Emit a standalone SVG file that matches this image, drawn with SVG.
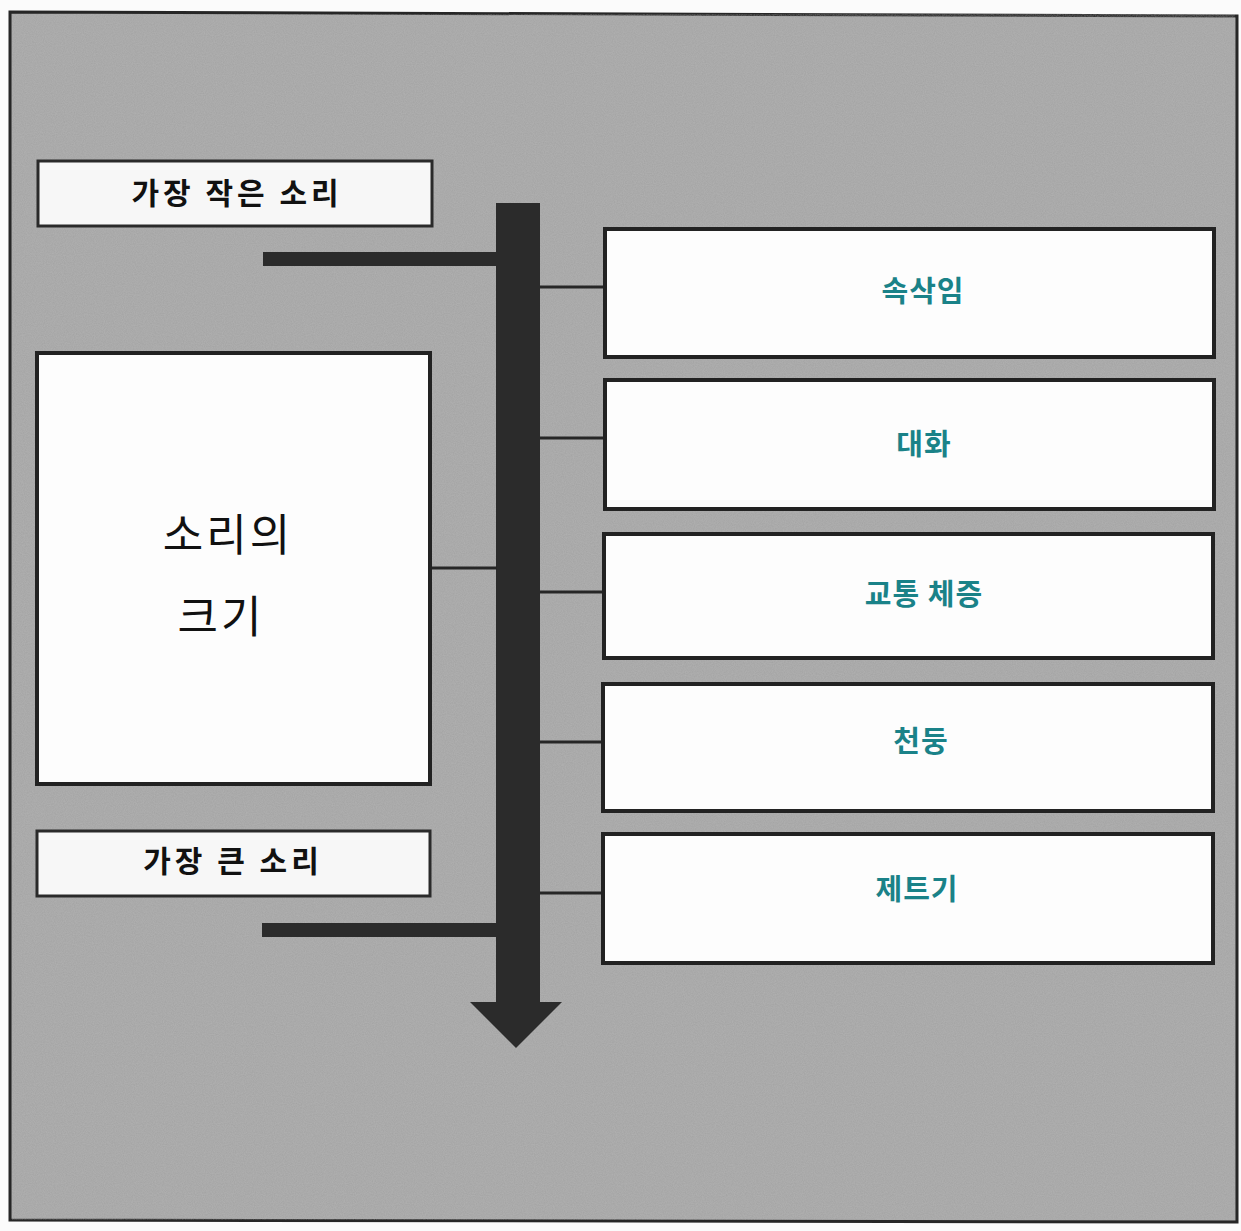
<svg xmlns="http://www.w3.org/2000/svg" width="1241" height="1231" viewBox="0 0 1241 1231">
<defs>
<filter id="grain" x="0" y="0" width="100%" height="100%">
<feTurbulence type="fractalNoise" baseFrequency="0.9" numOctaves="2" seed="3" result="n"/>
<feColorMatrix in="n" type="matrix" values="0 0 0 0 0.6  0 0 0 0 0.6  0 0 0 0 0.6  0 0 0 0.35 0" result="g"/>
<feComposite in="g" in2="SourceGraphic" operator="in"/>
</filter>
</defs>
<style>
.frame{fill:#a3a3a3;stroke:#262626;stroke-width:3}
.lbl{fill:#f7f7f7;stroke:#2a2a2a;stroke-width:3}
.box{fill:#fdfdfd;stroke:#222;stroke-width:4}
.bar{fill:#2b2b2b}
.thin{stroke:#262626;stroke-width:3;fill:none}
.thick{stroke:#2b2b2b;stroke-width:14;fill:none}
.kb{font-family:"Noto Sans CJK KR",sans-serif;font-weight:700;font-size:30px;fill:#111;text-anchor:middle;letter-spacing:4px}
.kl{font-family:"Noto Sans CJK KR",sans-serif;font-weight:400;font-size:44px;fill:#111;text-anchor:middle;letter-spacing:3px}
.kt{font-family:"Noto Sans CJK KR",sans-serif;font-weight:700;font-size:29px;fill:#1a8288;text-anchor:middle;letter-spacing:1px}
</style>
<rect x="0" y="0" width="1241" height="1231" fill="#fbfbfb"/>
<g id="background">
<path class="frame" d="M10 12 L1237 16 L1237 1222 L10 1220 Z"/>
<rect x="12" y="14" width="1223" height="1206" fill="#888" filter="url(#grain)"/>
</g>
<g id="connectors">
<rect class="bar" x="496" y="203" width="44" height="800"/>
<polygon class="bar" points="470,1002 562,1002 516,1048"/>
<line class="thick" x1="263" y1="259" x2="497" y2="259"/>
<line class="thick" x1="262" y1="930" x2="497" y2="930"/>
<line class="thin" x1="430" y1="568" x2="497" y2="568"/>
<line class="thin" x1="540" y1="287" x2="605" y2="287"/>
<line class="thin" x1="540" y1="438" x2="605" y2="438"/>
<line class="thin" x1="540" y1="592" x2="605" y2="592"/>
<line class="thin" x1="540" y1="742" x2="604" y2="742"/>
<line class="thin" x1="540" y1="893" x2="603" y2="893"/>
</g>
<g id="n-smallest">
<rect class="lbl" x="38" y="161" width="394" height="65"/>
<text class="kb" x="237" y="204">가장 작은 소리</text>
</g>
<g id="n-loudness">
<rect class="box" x="37" y="353" width="393" height="431"/>
<text class="kl" x="228" y="551">소리의</text>
<text class="kl" x="221" y="633">크기</text>
</g>
<g id="n-largest">
<rect class="lbl" x="37" y="831" width="393" height="65"/>
<text class="kb" x="233" y="872">가장 큰 소리</text>
</g>
<g id="n-whisper">
<rect class="box" x="605" y="229" width="609" height="128"/>
<text class="kt" x="923" y="302">속삭임</text>
</g>
<g id="n-talk">
<rect class="box" x="605" y="380" width="609" height="129"/>
<text class="kt" x="924" y="455">대화</text>
</g>
<g id="n-traffic">
<rect class="box" x="604" y="534" width="609" height="124"/>
<text class="kt" x="924" y="605">교통 체증</text>
</g>
<g id="n-thunder">
<rect class="box" x="603" y="684" width="610" height="127"/>
<text class="kt" x="921" y="752">천둥</text>
</g>
<g id="n-jet">
<rect class="box" x="603" y="834" width="610" height="129"/>
<text class="kt" x="917" y="900">제트기</text>
</g>
</svg>
